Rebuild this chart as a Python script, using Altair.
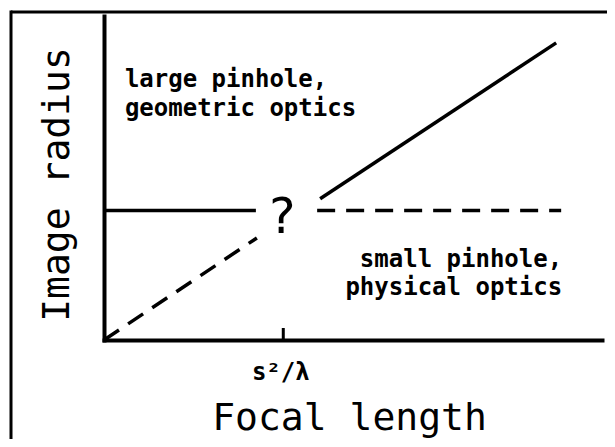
import altair as alt
import pandas as pd

# ---- data (axes 0..100 in arbitrary units) ----
flat_solid_x = [0, 30.5]
flat_solid_y = [40, 40]
flat_dash_x = [42.8, 91.8]
flat_dash_y = [40, 40]
rise_dash_x = [0, 30.7]
rise_dash_y = [0, 31.5]
rise_solid_x = [43.4, 90.8]
rise_solid_y = [43.6, 91.7]

tick_x = [36]
tick_y = [0]
tick_y2 = [3.7]

q_x = [35.7]
q_y = [33]
q_text = ["?"]

upper_x = [4.2, 4.2]
upper_y = [78.1, 69.1]
upper_text = ["large pinhole,", "geometric optics"]

lower_x = [92, 92]
lower_y = [22.5, 13.9]
lower_text = ["small pinhole,", "physical optics"]

x_tick_values = [35.4]
x_tick_label = "s²/λ"
x_title = "Focal length"
y_title = "Image radius"

FONT = "DejaVu Sans Mono"

segments = pd.DataFrame({
    "x": flat_solid_x + rise_solid_x + flat_dash_x + rise_dash_x,
    "y": flat_solid_y + rise_solid_y + flat_dash_y + rise_dash_y,
    "seg": ["fs"] * 2 + ["rs"] * 2 + ["fd"] * 2 + ["rd"] * 2,
    "style": ["solid"] * 4 + ["dashed"] * 4,
})

xs = alt.Scale(domain=[0, 100], nice=False, zero=False)
ys = alt.Scale(domain=[0, 100], nice=False, zero=False)

x_axis = alt.Axis(
    values=x_tick_values,
    labelExpr=f"'{x_tick_label}'",
    ticks=False,
    grid=False,
    domainWidth=4,
    domainColor="black",
    domainCap="square",
    labelFont=FONT,
    labelFontWeight="bold",
    labelFontSize=24,
    labelColor="black",
    labelBaseline="alphabetic",
    labelPadding=39,
    title=x_title,
    titleFont=FONT,
    titleFontWeight="normal",
    titleFontSize=38,
    titleColor="black",
    titleBaseline="alphabetic",
    titleAlign="center",
    titleX=245,
    titleY=89,
)
y_axis = alt.Axis(
    labels=False,
    ticks=False,
    grid=False,
    domainWidth=4,
    domainColor="black",
    domainCap="square",
    title=y_title,
    titleFont=FONT,
    titleFontWeight="normal",
    titleFontSize=38,
    titleColor="black",
    titleBaseline="alphabetic",
    titleAlign="center",
    titleAngle=270,
    titleX=-36,
    titleY=168,
)

base = alt.Chart(segments)

solid = base.transform_filter(alt.datum.style == "solid").mark_line(
    color="black", strokeWidth=3.5, strokeCap="butt"
).encode(
    x=alt.X("x:Q", scale=xs, axis=x_axis),
    y=alt.Y("y:Q", scale=ys, axis=y_axis),
    detail="seg:N",
)

dashed = base.transform_filter(alt.datum.style == "dashed").mark_line(
    color="black", strokeWidth=3.5, strokeDash=[18, 11], strokeCap="butt"
).encode(
    x=alt.X("x:Q", scale=xs),
    y=alt.Y("y:Q", scale=ys),
    detail="seg:N",
)

tick = alt.Chart(pd.DataFrame({"x": tick_x, "y": tick_y, "y2": tick_y2})).mark_rule(
    color="black", strokeWidth=3
).encode(x=alt.X("x:Q", scale=xs), y=alt.Y("y:Q", scale=ys), y2="y2:Q")

qmark = alt.Chart(pd.DataFrame({"x": q_x, "y": q_y, "t": q_text})).mark_text(
    font=FONT, fontSize=50, fontWeight="normal", color="black",
    align="center", baseline="alphabetic"
).encode(x=alt.X("x:Q", scale=xs), y=alt.Y("y:Q", scale=ys), text="t:N")

upper = alt.Chart(pd.DataFrame({"x": upper_x, "y": upper_y, "t": upper_text})).mark_text(
    font=FONT, fontSize=24, fontWeight="bold", color="black",
    align="left", baseline="alphabetic"
).encode(x=alt.X("x:Q", scale=xs), y=alt.Y("y:Q", scale=ys), text="t:N")

lower = alt.Chart(pd.DataFrame({"x": lower_x, "y": lower_y, "t": lower_text})).mark_text(
    font=FONT, fontSize=24, fontWeight="bold", color="black",
    align="right", baseline="alphabetic"
).encode(x=alt.X("x:Q", scale=xs), y=alt.Y("y:Q", scale=ys), text="t:N")

# decorative outer frame (only top and left edges are visible in the picture)
one = pd.DataFrame({"a": [0]})
frame_top = alt.Chart(one).mark_rule(color="black", strokeWidth=3).encode(
    x=alt.value(-93), x2=alt.value(800), y=alt.value(-4)
)
frame_left = alt.Chart(one).mark_rule(color="black", strokeWidth=3).encode(
    x=alt.value(-93), y=alt.value(-5.5), y2=alt.value(600)
)

chart = alt.layer(
    frame_top, frame_left, solid, dashed, tick, qmark, upper, lower
).properties(
    width=498,
    height=324,
    padding={"left": 96, "top": 8, "right": 5, "bottom": 99},
    autosize=alt.AutoSizeParams(type="none"),
    background="white",
).configure_view(stroke=None)

chart.save("out.html", embed_options={"renderer": "svg", "actions": False})
